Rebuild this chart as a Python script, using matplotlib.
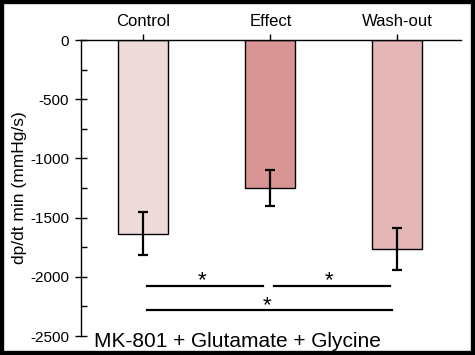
import numpy as np
import matplotlib.pyplot as plt
from matplotlib.patches import Rectangle

plt.rcParams['font.family'] = ['Liberation Sans', 'DejaVu Sans']
plt.rcParams['axes.unicode_minus'] = False

categories = ["Control", "Effect", "Wash-out"]
values = [-1635, -1250, -1765]
errors = [185, 150, 175]
colors = ["#efdada", "#d99494", "#e5b6b6"]

fig = plt.figure(figsize=(4.75, 3.55), dpi=100)
ax = fig.add_axes([81 / 475, 19 / 355, 380 / 475, 296 / 355])

x = np.arange(len(categories))
ax.bar(x, values, width=0.394, color=colors, edgecolor="black", linewidth=1)
ax.errorbar(x, values, yerr=errors, fmt="none", ecolor="black",
            elinewidth=1.6, capsize=3.5, capthick=1.6)

ax.set_xlim(-0.49, 2.5)
ax.set_ylim(-2500, 0)
ax.set_yticks(np.arange(-2500, 1, 500))
ax.set_yticks(np.arange(-2500, 1, 250), minor=True)
ax.tick_params(axis="y", which="major", direction="inout", length=9,
               width=1, labelsize=11, pad=4)
ax.tick_params(axis="y", which="minor", direction="in", length=4, width=1)

ax.xaxis.tick_top()
ax.set_xticks(x)
ax.set_xticklabels(categories)
ax.tick_params(axis="x", direction="out", length=4, width=1, labelsize=12, pad=4)

ax.spines["bottom"].set_visible(False)
ax.spines["right"].set_visible(False)
ax.spines["top"].set_linewidth(1)
ax.spines["left"].set_linewidth(1)

ax.set_ylabel("dp/dt min (mmHg/s)", fontsize=12.5, labelpad=2)

# significance brackets
sig_lines = [(0.03, 0.94, -2075), (1.03, 1.94, -2075), (0.03, 1.96, -2280)]
for x0, x1, y in sig_lines:
    ax.plot([x0, x1], [y, y], color="black", linewidth=1.6, clip_on=False)
    ax.text((x0 + x1) / 2 - 0.02, y + 40, "*", ha="center", va="center",
            fontsize=16)

ax.text(-0.39, -2593, "MK-801 + Glutamate + Glycine", fontsize=15,
        ha="left", va="baseline")

fig.patches.append(Rectangle((0, 0), 1, 1, transform=fig.transFigure,
                             fill=False, edgecolor="black", linewidth=6))

fig.savefig("out.png", dpi=100)
